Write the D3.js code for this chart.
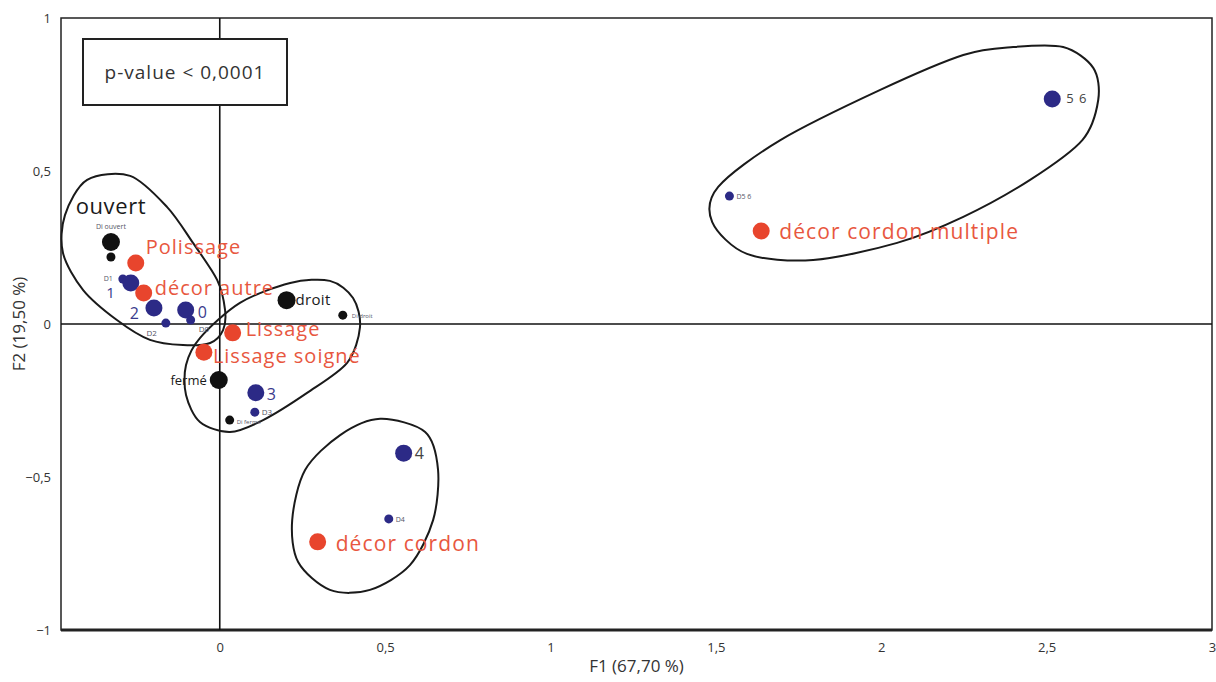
<!DOCTYPE html>
<html>
<head>
<meta charset="utf-8">
<script src="https://cdn.jsdelivr.net/npm/d3@7"></script>
<style>
  body { margin: 0; background: #fff; }
  text { font-family: "Open Sans", sans-serif; }
</style>
</head>
<body>
<svg id="chart" width="1216" height="682"></svg>
<script>
// modalities of the correspondence analysis (F1 / F2 coordinates)
const names = ["ouvert", "Di ouvert", "Polissage", "D1", "1", "décor autre", "2", "D2", "0", "D0",
    "droit", "Di droit", "Lissage", "Lissage soigné", "fermé", "3", "D3", "Di fermé",
    "4", "D4", "décor cordon", "5 6", "D5 6", "décor cordon multiple"];
const f1 = [-0.329, -0.329, -0.254, -0.293, -0.269, -0.230, -0.199, -0.163, -0.103, -0.088,
    0.202, 0.372, 0.039, -0.048, -0.003, 0.109, 0.106, 0.030,
    0.556, 0.511, 0.296, 2.517, 1.541, 1.637];
const f2 = [0.268, 0.219, 0.199, 0.147, 0.134, 0.101, 0.052, 0.003, 0.046, 0.013,
    0.078, 0.029, -0.029, -0.092, -0.183, -0.225, -0.288, -0.314,
    -0.422, -0.637, -0.712, 0.735, 0.418, 0.304];
// variable: forme (black), surface / decor (red), nombre (blue); sup = supplementary (small)
const kinds = ["forme", "forme-sup", "surface", "nombre-sup", "nombre", "surface", "nombre", "nombre-sup", "nombre", "nombre-sup",
    "forme", "forme-sup", "surface", "surface", "forme", "nombre", "nombre-sup", "forme-sup",
    "nombre", "nombre-sup", "surface", "nombre", "nombre-sup", "surface"];

const xTicks = [0, 0.5, 1, 1.5, 2, 2.5, 3];
const yTicks = [-1, -0.5, 0, 0.5, 1];
const xTitle = "F1 (67,70 %)";
const yTitle = "F2 (19,50 %)";
const note = "p-value < 0,0001";

// hand drawn group outlines (F1, F2)
const hulls = [
    [[-0.401, 0.471], [-0.271, 0.484], [-0.159, 0.382], [-0.081, 0.265], [-0.008, 0.144], [0.016, 0.046],
     [0.010, -0.020], [-0.029, -0.062], [-0.111, -0.069], [-0.211, -0.052], [-0.311, 0.013], [-0.413, 0.111],
     [-0.474, 0.232], [-0.468, 0.356]],
    [[0.213, 0.134], [0.333, 0.141], [0.403, 0.085], [0.424, -0.010], [0.385, -0.127], [0.264, -0.225],
     [0.131, -0.314], [0.031, -0.353], [-0.060, -0.320], [-0.102, -0.232], [-0.102, -0.134], [-0.060, -0.046],
     [0.061, 0.069]],
    [[0.485, -0.310], [0.621, -0.353], [0.660, -0.477], [0.645, -0.641], [0.575, -0.788], [0.454, -0.869],
     [0.333, -0.869], [0.237, -0.778], [0.219, -0.641], [0.258, -0.477], [0.364, -0.363]],
    [[2.248, 0.879], [2.399, 0.905], [2.550, 0.905], [2.641, 0.837], [2.656, 0.732], [2.608, 0.601],
     [2.450, 0.471], [2.248, 0.350], [2.048, 0.265], [1.794, 0.209], [1.594, 0.229], [1.489, 0.333],
     [1.507, 0.448], [1.695, 0.601], [1.997, 0.765]]
];

// label placement: [dx, dy, anchor, font size, letter spacing]
const labelPos = {
    "ouvert": [0, -28, "middle", 22, 0.6], "Di ouvert": [0, -28, "middle", 7, 0],
    "Polissage": [10, -9, "start", 20, 1], "D1": [-10, 2, "end", 7, 0], "1": [-16, 15, "end", 15, 0],
    "décor autre": [11, 2, "start", 20, 1], "2": [-15, 11, "end", 16, 0], "D2": [-9, 13, "end", 8, 0],
    "0": [12, 8, "start", 16, 0], "D0": [8, 12, "start", 8, 0],
    "droit": [9, 5, "start", 15, 0.3], "Di droit": [9, 3, "start", 6, 0],
    "Lissage": [13, 3, "start", 20, 1], "Lissage soigné": [9, 11, "start", 20, 1],
    "fermé": [-12, 5, "end", 13, 0], "3": [11, 7, "start", 16, 0], "D3": [7, 3, "start", 8, 0],
    "Di fermé": [7, 4, "start", 6, 0], "4": [11, 6, "start", 16, 0], "D4": [7, 3, "start", 7, 0],
    "décor cordon": [18, 9, "start", 21, 1.1], "5 6": [14, 4, "start", 13, 1], "D5 6": [7, 3, "start", 7, 0],
    "décor cordon multiple": [18, 8, "start", 21, 1.1]
};

const dotColour = { "forme": "#111", "surface": "#e8452d", "nombre": "#2c2a86" };
const textColour = { "forme": "#1a1a1a", "surface": "#e85740", "nombre": "#3a3a8c" };

const points = names.map((n, i) => ({
    name: n, x: f1[i], y: f2[i],
    kind: kinds[i].replace("-sup", ""),
    sup: kinds[i].endsWith("-sup")
}));

const svg = d3.select("#chart");

const xScale = d3.scaleLinear().domain([-0.48, 3]).range([61, 1212]);
const yScale = d3.scaleLinear().domain([-1, 1]).range([630, 18]);
const comma = v => d3.format("")(v).replace(".", ",");

// frame
svg.append("rect")
    .attr("x", xScale(-0.48)).attr("y", yScale(1))
    .attr("width", xScale(3) - xScale(-0.48)).attr("height", yScale(-1) - yScale(1))
    .attr("fill", "none").attr("stroke", "#222").attr("stroke-width", 1.5);
svg.append("line")
    .attr("x1", xScale(-0.48)).attr("x2", xScale(3))
    .attr("y1", yScale(-1)).attr("y2", yScale(-1))
    .attr("stroke", "#222").attr("stroke-width", 3);

// zero lines
svg.append("line")
    .attr("x1", xScale(-0.48)).attr("x2", xScale(3))
    .attr("y1", yScale(0)).attr("y2", yScale(0))
    .attr("stroke", "#111").attr("stroke-width", 1.6);
svg.append("line")
    .attr("x1", xScale(0)).attr("x2", xScale(0))
    .attr("y1", yScale(1)).attr("y2", yScale(-1))
    .attr("stroke", "#111").attr("stroke-width", 1.6);

// axes (labels only)
const xAxis = svg.append("g")
    .attr("transform", "translate(0," + (yScale(-1) + 10) + ")")
    .call(d3.axisBottom(xScale).tickValues(xTicks).tickFormat(comma).tickSize(0));
xAxis.select(".domain").remove();
xAxis.selectAll("text").attr("font-size", 13).attr("fill", "#333")
    .attr("font-family", "'Liberation Sans Narrow', 'Open Sans', sans-serif");

const yAxis = svg.append("g")
    .attr("transform", "translate(" + (xScale(-0.48) - 7) + ",0)")
    .call(d3.axisLeft(yScale).tickValues(yTicks).tickFormat(comma).tickSize(0));
yAxis.select(".domain").remove();
yAxis.selectAll("text").attr("font-size", 13).attr("fill", "#333")
    .attr("font-family", "'Liberation Sans Narrow', 'Open Sans', sans-serif");

svg.append("text")
    .attr("x", (xScale(-0.48) + xScale(3)) / 2).attr("y", 672)
    .attr("text-anchor", "middle").attr("font-size", 17).attr("fill", "#333")
    .text(xTitle);
svg.append("text")
    .attr("transform", "translate(25," + yScale(0) + ") rotate(-90)")
    .attr("text-anchor", "middle").attr("font-size", 17).attr("fill", "#333")
    .text(yTitle);

// p-value box
svg.append("rect")
    .attr("x", 83).attr("y", 39).attr("width", 204).attr("height", 66)
    .attr("fill", "#fff").attr("stroke", "#222").attr("stroke-width", 2);
svg.append("text")
    .attr("x", 185).attr("y", 79).attr("text-anchor", "middle")
    .attr("font-size", 19).attr("letter-spacing", 1).attr("fill", "#333").text(note);

// group outlines
const outline = d3.line()
    .x(d => xScale(d[0])).y(d => yScale(d[1]))
    .curve(d3.curveCardinalClosed.tension(0.1));
svg.append("g").selectAll("path")
    .data(hulls).enter().append("path")
    .attr("d", outline)
    .attr("fill", "none").attr("stroke", "#1a1a1a").attr("stroke-width", 2);

// dots
svg.append("g").selectAll("circle")
    .data(points).enter().append("circle")
    .attr("cx", d => xScale(d.x))
    .attr("cy", d => yScale(d.y))
    .attr("r", d => d.sup ? 4.5 : (d.kind === "forme" ? 9 : 8.5))
    .attr("fill", d => dotColour[d.kind]);

// labels
svg.append("g").selectAll("text")
    .data(points).enter().append("text")
    .attr("x", d => xScale(d.x) + labelPos[d.name][0])
    .attr("y", d => yScale(d.y) + labelPos[d.name][1])
    .attr("text-anchor", d => labelPos[d.name][2])
    .attr("font-size", d => labelPos[d.name][3])
    .attr("letter-spacing", d => labelPos[d.name][4])
    .attr("fill", d => d.sup ? "#556" : (d.name === "4" || d.name === "5 6" ? "#444" : textColour[d.kind]))
    .text(d => d.name);
</script>
</body>
</html>
